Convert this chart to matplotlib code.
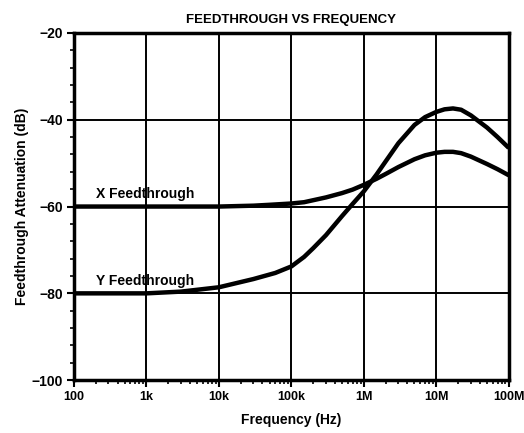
import matplotlib.pyplot as plt
from matplotlib.ticker import FixedLocator, LogLocator, NullFormatter

plt.rcParams["font.family"] = ["Liberation Sans", "DejaVu Sans"]
plt.rcParams["font.weight"] = "bold"

freq_x = [1e2, 1e3, 1e4, 3e4, 5e4, 1e5, 1.5e5, 3e5, 5e5, 7e5, 1e6, 1.5e6, 2e6, 3e6,
          5e6, 7e6, 1e7, 1.3e7, 1.7e7, 2.2e7, 3e7, 5e7, 7e7, 1e8]
x_feed = [-60, -60, -60, -59.8, -59.6, -59.3, -59.0, -57.9, -56.9, -56.1, -55.0, -53.6,
          -52.5, -50.9, -49.1, -48.2, -47.6, -47.4, -47.4, -47.7, -48.5, -50.2, -51.4, -52.8]

freq_y = [1e2, 1e3, 3e3, 1e4, 3e4, 6e4, 1e5, 1.5e5, 2e5, 3e5, 5e5, 7e5, 1e6, 1.5e6,
          2e6, 3e6, 5e6, 7e6, 1e7, 1.3e7, 1.7e7, 2.2e7, 3e7, 5e7, 7e7, 1e8]
y_feed = [-80, -80, -79.6, -78.6, -76.7, -75.3, -73.8, -71.6, -69.6, -66.6, -62.2, -59.4,
          -56.5, -52.6, -49.6, -45.4, -41.2, -39.4, -38.2, -37.6, -37.4, -37.7, -39.0,
          -41.8, -44.0, -46.5]

xticks = [1e2, 1e3, 1e4, 1e5, 1e6, 1e7, 1e8]
xlabels = ["100", "1k", "10k", "100k", "1M", "10M", "100M"]
yticks = [-100, -80, -60, -40, -20]

fig = plt.figure(figsize=(5.24, 4.33), dpi=100)
ax = fig.add_axes([0.141, 0.122, 0.830, 0.802])

ax.plot(freq_x, x_feed, color="black", lw=3.2, solid_capstyle="butt", solid_joinstyle="round")
ax.plot(freq_y, y_feed, color="black", lw=3.2, solid_capstyle="butt", solid_joinstyle="round")

ax.set_xscale("log")
ax.set_xlim(1e2, 1e8)
ax.set_ylim(-100, -20)
ax.set_xticks(xticks)
ax.set_xticklabels(xlabels)
ax.set_yticks(yticks)
ax.set_yticklabels(["\u2212" + str(abs(v)) for v in yticks])
ax.xaxis.set_minor_locator(LogLocator(base=10, subs=range(2, 10), numticks=20))
ax.xaxis.set_minor_formatter(NullFormatter())
ax.yaxis.set_minor_locator(FixedLocator(range(-100, -19, 4)))

ax.grid(True, which="major", color="black", lw=1.4)
for s in ax.spines.values():
    s.set_linewidth(2.5)
ax.tick_params(which="major", length=5, width=1.5, labelsize=10, pad=3)
ax.tick_params(axis="x", which="major", labelsize=9)
ax.tick_params(which="minor", length=3, width=1.2)

ax.text(2e2, -58, "X Feedthrough", fontsize=10, fontweight="bold")
ax.text(2e2, -78, "Y Feedthrough", fontsize=10, fontweight="bold")

ax.set_title("FEEDTHROUGH VS FREQUENCY", fontsize=9.5, fontweight="bold", pad=7)
ax.set_xlabel("Frequency (Hz)", fontsize=10, fontweight="bold", labelpad=7)
ax.set_ylabel("Feedthrough Attenuation (dB)", fontsize=10, fontweight="bold", labelpad=2)

fig.savefig("out.png", dpi=100)
